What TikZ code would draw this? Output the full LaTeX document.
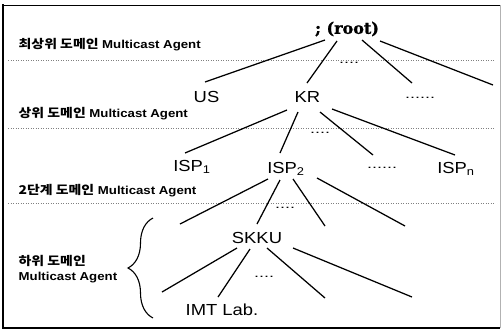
\documentclass[tikz,border=0pt]{standalone}
\usepackage{fontspec}
\setmainfont{Liberation Sans}
\newfontfamily\krfont{Noto Sans CJK KR Bold}[Scale=1.05]
\newfontfamily\rootfont{DejaVu Serif Bold}[FakeBold=1.2]
\usetikzlibrary{positioning,decorations.pathreplacing}

\begin{document}
\begin{tikzpicture}[
  x=1pt,y=-1pt,
  line width=1.25pt,
  leaf/.style={font=\fontsize{16}{18}\selectfont,xscale=1.15,inner sep=0pt},
  level/.style={font=\fontsize{11.5}{15}\selectfont\bfseries,xscale=1.15,
    anchor=west,inner sep=0pt,align=left},
  more/.style={font=\fontsize{12}{14}\selectfont,xscale=1.5,inner sep=0pt},
  sep/.style={gray,line width=0.5pt,dotted}
]
\useasboundingbox (0,0) rectangle (502,333);

% 테두리
\draw[line width=0.8pt] (3,5) -- (500,5);
\draw[line width=2pt] (3,4) -- (3,328) -- (500,328);
\draw[line width=0.4pt,gray!60] (500,5) -- (500,328);

% 단계 사이의 점선
\foreach \y in {60,128,203}
  \draw[sep] (8,\y) -- (495,\y);

% 단계 이름
\node[level] (lv1) at (18,44.5) {{\krfont 최상위 도메인} Multicast Agent};
\node[level] (lv2) at (18,114) {{\krfont 상위 도메인} Multicast Agent};
\node[level] (lv3) at (18,191) {{\krfont 2단계 도메인} Multicast Agent};
\node[level] (lv4) at (18,269.5) {{\krfont 하위 도메인}\\Multicast Agent};

% 트리의 노드
\node[font=\rootfont\fontsize{16}{18}\selectfont,inner sep=0pt]
  (root) at (347,29) {; (root)};
\node[leaf] (us) at (206.5,97) {US};
\node[leaf] (kr) at (307.5,97) {KR};
\node[more] (etc1) at (420,98) {......};
\node[leaf] (isp1) at (192,167) {ISP\textsubscript{1}};
\node[leaf] (isp2) at (286,169) {ISP\textsubscript{2}};
\node[more] (etc2) at (382,168) {......};
\node[leaf] (ispn) at (456,169) {ISP\textsubscript{n}};
\node[leaf] (skku) at (257,238) {SKKU};
\node[leaf] (imt) at (222,310) {IMT Lab.};

\node[more] (gap1) at (349,63) {....};
\node[more] (gap2) at (320,133) {....};
\node[more] (gap3) at (285,208) {....};
\node[more] (gap4) at (264,277) {....};

% 선의 끝점
\coordinate (r3) at (412,83);
\coordinate (r4) at (493,85);
\coordinate (i1) at (180,224);
\coordinate (i3) at (325,226);
\coordinate (i4) at (405,226);
\coordinate (s1) at (162,292);
\coordinate (s3) at (325,298);
\coordinate (s4) at (412,297);

% root
\draw ([shift={(-22,11)}]root.center) -- ([shift={(-1.5,-15)}]us.center);
\draw ([shift={(-10,12)}]root.center) -- ([shift={(-0.5,-14)}]kr.center);
\draw ([shift={(15,11)}]root.center) -- (r3);
\draw ([shift={(33,12)}]root.center) -- (r4);

% KR
\draw ([shift={(-20.5,13)}]kr.center) -- ([shift={(-7,-14)}]isp1.center);
\draw ([shift={(-9.5,15)}]kr.center) -- ([shift={(-6,-16)}]isp2.center);
\draw ([shift={(12.5,15)}]kr.center) -- ([shift={(-9,-13)}]etc2.center);
\draw ([shift={(24.5,12)}]kr.center) -- ([shift={(-1,-14)}]ispn.center);

% ISP2
\draw ([shift={(-18,10)}]isp2.center) -- (i1);
\draw ([shift={(-6,11)}]isp2.center) -- ([shift={(0,-14)}]skku.center);
\draw ([shift={(7,10)}]isp2.center) -- (i3);
\draw ([shift={(31,9)}]isp2.center) -- (i4);

% SKKU
\draw ([shift={(-20,10)}]skku.center) -- (s1);
\draw ([shift={(-7,11)}]skku.center) -- ([shift={(-4,-13)}]imt.center);
\draw ([shift={(10,10)}]skku.center) -- (s3);
\draw ([shift={(36,10)}]skku.center) -- (s4);

% 하위 도메인 묶음
\draw[decorate,decoration={brace,amplitude=25pt},line width=1.1pt]
  (153,318) -- (153,218);

\end{tikzpicture}
\end{document}
